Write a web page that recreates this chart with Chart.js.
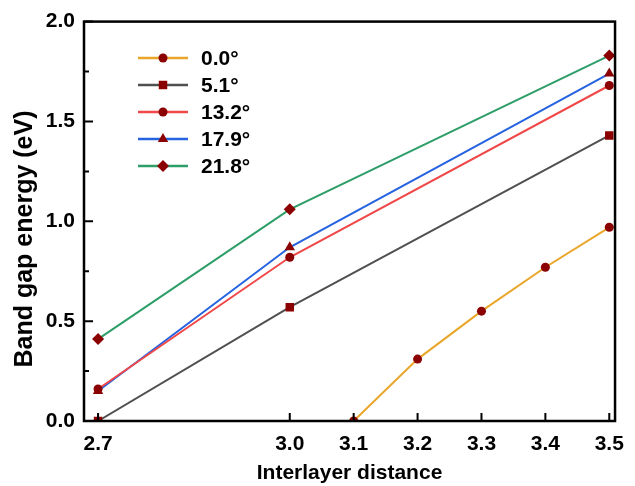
<!DOCTYPE html>
<html>
<head>
<meta charset="utf-8">
<script src="https://cdn.jsdelivr.net/npm/chart.js@4.4.1/dist/chart.umd.min.js"></script>
<style>
  html, body { margin: 0; padding: 0; background: #fff; }
  #wrap { width: 635px; height: 486px; position: relative; }
</style>
</head>
<body>
<div id="wrap"><canvas id="chart" width="635" height="486"></canvas></div>
<script>
// ── Data ─────────────────────────────────────────────────────────────
const xTicks      = [2.7, 3.0, 3.1, 3.2, 3.3, 3.4, 3.5];
const yTicks      = [0, 0.5, 1.0, 1.5, 2.0];
const yMinorTicks = [0.25, 0.75, 1.25, 1.75];

const angles = ['0.0°', '5.1°', '13.2°', '17.9°', '21.8°'];

const dist00   = [3.1, 3.2, 3.3, 3.4, 3.5];
const gap00    = [0.0, 0.31, 0.55, 0.77, 0.97];
const distRest = [2.7, 3.0, 3.5];
const gap51    = [0.0, 0.57, 1.43];
const gap132   = [0.16, 0.82, 1.68];
const gap179   = [0.15, 0.87, 1.74];
const gap218   = [0.41, 1.06, 1.83];

const FONT = "'Liberation Sans', Arial, sans-serif";
const MARKER = '#8b0000';
const RADIUS = { circle: 4.5, rect: 6, triangle: 6, rectRot: 6 };

const toPts = (xs, ys) => xs.map((x, i) => ({ x, y: ys[i] }));

function series(label, xs, ys, color, style) {
  return {
    label,
    data: toPts(xs, ys),
    borderColor: color,
    backgroundColor: MARKER,
    pointBackgroundColor: MARKER,
    pointBorderColor: MARKER,
    pointBorderWidth: 0,
    pointStyle: style,
    pointRadius: RADIUS[style],
    borderWidth: 2,
    tension: 0,
  };
}

// ── Frame, inward ticks, titles and legend ──────────────────────────
const decor = {
  id: 'decor',
  afterDatasetsDraw(chart) {
    const { ctx, chartArea: a, scales } = chart;
    const xs = scales.x, ys = scales.y;
    ctx.save();
    ctx.strokeStyle = '#000';
    ctx.lineWidth = 2.5;
    ctx.strokeRect(a.left, a.top, a.right - a.left, a.bottom - a.top);

    ctx.lineWidth = 2;
    ctx.beginPath();
    xTicks.forEach(v => {
      const px = xs.getPixelForValue(v);
      ctx.moveTo(px, a.bottom);
      ctx.lineTo(px, a.bottom - 8);
    });
    yTicks.forEach(v => {
      const py = ys.getPixelForValue(v);
      ctx.moveTo(a.left, py);
      ctx.lineTo(a.left + 9, py);
    });
    yMinorTicks.forEach(v => {
      const py = ys.getPixelForValue(v);
      ctx.moveTo(a.left, py);
      ctx.lineTo(a.left + 5, py);
    });
    ctx.stroke();

    // axis titles
    ctx.fillStyle = '#000';
    ctx.textAlign = 'center';
    ctx.textBaseline = 'middle';
    ctx.font = 'bold 21px ' + FONT;
    ctx.fillText('Interlayer distance', (a.left + a.right) / 2, 473);
    ctx.save();
    ctx.translate(25, 239);
    ctx.rotate(-Math.PI / 2);
    ctx.font = 'bold 25px ' + FONT;
    ctx.fillText('Band gap energy (eV)', 0, 0);
    ctx.restore();

    // legend
    ctx.textAlign = 'left';
    ctx.font = 'bold 21px ' + FONT;
    chart.data.datasets.forEach((ds, i) => {
      const y = 58 + i * 27;
      ctx.strokeStyle = ds.borderColor;
      ctx.lineWidth = 2.5;
      ctx.beginPath();
      ctx.moveTo(138, y);
      ctx.lineTo(188, y);
      ctx.stroke();
      ctx.fillStyle = MARKER;
      Chart.helpers.drawPoint(ctx, {
        pointStyle: ds.pointStyle, radius: ds.pointRadius, rotation: 0, borderWidth: 0
      }, 163, y);
      ctx.fillStyle = '#000';
      ctx.fillText(ds.label, 201, y + 1);
    });
    ctx.restore();
  }
};

new Chart(document.getElementById('chart'), {
  type: 'line',
  data: {
    datasets: [
      series(angles[0], dist00,   gap00,  '#e9a62a', 'circle'),
      series(angles[1], distRest, gap51,  '#505050', 'rect'),
      series(angles[2], distRest, gap132, '#f04848', 'circle'),
      series(angles[3], distRest, gap179, '#2563e0', 'triangle'),
      series(angles[4], distRest, gap218, '#2e9e68', 'rectRot'),
    ]
  },
  options: {
    responsive: false,
    animation: false,
    layout: { padding: { left: 0, top: 20, right: 11, bottom: 0 } },
    plugins: { legend: { display: false }, tooltip: { enabled: false } },
    scales: {
      x: {
        type: 'linear',
        min: 2.678,
        max: 3.509,
        grid: { display: false, drawTicks: false },
        border: { display: false },
        afterBuildTicks: s => { s.ticks = xTicks.map(v => ({ value: v })); },
        afterFit: s => { s.height = 65; },
        ticks: {
          padding: 11,
          color: '#000',
          font: { family: FONT, size: 21, weight: 'bold' },
          callback: v => Number(v).toFixed(1),
          maxRotation: 0,
          autoSkip: false,
        }
      },
      y: {
        min: 0,
        max: 2.0,
        grid: { display: false, drawTicks: false },
        border: { display: false },
        afterBuildTicks: s => { s.ticks = yTicks.map(v => ({ value: v })); },
        afterFit: s => { s.width = 84; },
        ticks: {
          padding: 9,
          color: '#000',
          font: { family: FONT, size: 21, weight: 'bold' },
          callback: v => Number(v).toFixed(1),
        }
      }
    }
  },
  plugins: [decor]
});
</script>
</body>
</html>
